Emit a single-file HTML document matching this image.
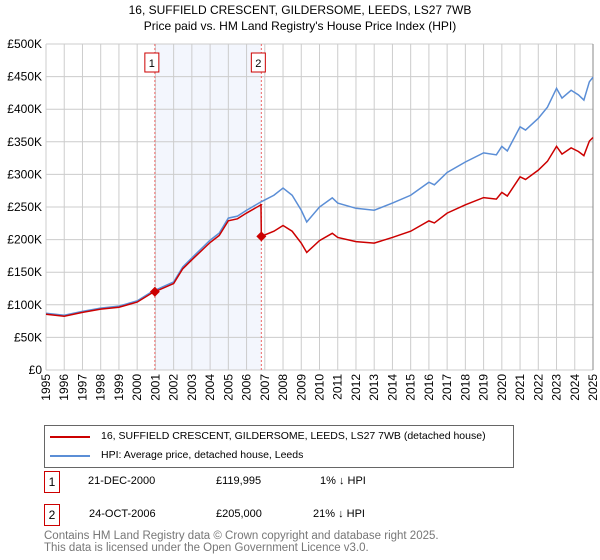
<!DOCTYPE html>
<html><head><meta charset="utf-8"><style>
body{margin:0;background:#fff;font-family:"Liberation Sans","DejaVu Sans",sans-serif}
#wrap{position:relative;width:600px;height:560px;overflow:hidden}
.t{position:absolute;font-size:12px;color:#000;white-space:nowrap}
.box{position:absolute;border:1px solid #c00;width:14px;height:20px;font-size:12px;text-align:center;line-height:20px}
</style></head><body>
<div id="wrap">
<svg id="svg" width="600" height="420" style="position:absolute;left:0;top:0"></svg>
<div style="position:absolute;left:44px;top:425px;width:468px;height:41px;border:1px solid #666"></div>
<div style="position:absolute;left:50px;top:436px;width:40px;height:2px;background:#c00"></div>
<div class="t" style="left:101px;top:430px;font-size:10.5px">16, SUFFIELD CRESCENT, GILDERSOME, LEEDS, LS27 7WB (detached house)</div>
<div style="position:absolute;left:50px;top:455px;width:40px;height:2px;background:#5b8ed6"></div>
<div class="t" style="left:101px;top:449px;font-size:10.5px">HPI: Average price, detached house, Leeds</div>
<div class="box" style="left:44px;top:471px">1</div>
<div class="t" style="left:88px;top:475px;font-size:11px">21-DEC-2000</div>
<div class="t" style="left:216px;top:475px;font-size:11px">£119,995</div>
<div class="t" style="left:320px;top:475px;font-size:11px">1% ↓ HPI</div>
<div class="box" style="left:44px;top:504px">2</div>
<div class="t" style="left:89px;top:508px;font-size:11px">24-OCT-2006</div>
<div class="t" style="left:216px;top:508px;font-size:11px">£205,000</div>
<div class="t" style="left:313px;top:508px;font-size:11px">21% ↓ HPI</div>
<div class="t" style="left:44px;top:530px;color:#777;font-size:11.5px;line-height:12px">Contains HM Land Registry data © Crown copyright and database right 2025.<br>This data is licensed under the Open Government Licence v3.0.</div>
</div>
<script>
const hpiYears=[1995,1996,1997,1998,1999,2000,2000.8,2002,2002.5,2003,2004,2004.5,2005,2005.5,2006,2006.8,2007.5,2008,2008.5,2009,2009.3,2010,2010.7,2011,2012,2013,2014,2015,2016,2016.3,2017,2018,2019,2019.7,2020,2020.3,2021,2021.3,2022,2022.5,2023,2023.3,2023.8,2024.2,2024.5,2024.8,2025];
const hpiValues=[87,84,90,95,98,106,120,135,158,172,199,210,233,236,245,258,268,279,268,245,227,250,264,256,248,245,256,268,288,284,303,319,333,330,343,336,373,368,386,403,432,417,429,422,414,442,449];
const saleYears=[2000.97,2006.81];
const saleValues=[119.995,205];
const saleLabels=["1","2"];
const yTicks=[0,50,100,150,200,250,300,350,400,450,500];
const yTickLabels=["£0","£50K","£100K","£150K","£200K","£250K","£300K","£350K","£400K","£450K","£500K"];
const xTicks=[1995,1996,1997,1998,1999,2000,2001,2002,2003,2004,2005,2006,2007,2008,2009,2010,2011,2012,2013,2014,2015,2016,2017,2018,2019,2020,2021,2022,2023,2024,2025];
const L=46,R=593,T=44,B=370;
const X=y=>L+(y-1995)/30*(R-L);
const Y=v=>B-v/500*(B-T);
const svg=document.getElementById('svg');const NS='http://www.w3.org/2000/svg';
function mk(tag,a,name){const e=document.createElementNS(NS,tag);for(const k in a)e.setAttribute(k,a[k]);


svg.appendChild(e);return e;}
function interp(yr){for(let i=0;i<hpiYears.length-1;i++){if(yr<=hpiYears[i+1]){const f=(yr-hpiYears[i])/(hpiYears[i+1]-hpiYears[i]);return hpiValues[i]+f*(hpiValues[i+1]-hpiValues[i]);}}return hpiValues[hpiValues.length-1];}
let t=mk('text',{x:300,y:14,'text-anchor':'middle','font-size':12,'font-family':'Liberation Sans, sans-serif'},'chart-title');t.textContent='16, SUFFIELD CRESCENT, GILDERSOME, LEEDS, LS27 7WB';
t=mk('text',{x:300,y:30,'text-anchor':'middle','font-size':12,'font-family':'Liberation Sans, sans-serif'},'chart-subtitle');t.textContent="Price paid vs. HM Land Registry's House Price Index (HPI)";
mk('rect',{x:X(saleYears[0]),y:T,width:X(saleYears[1])-X(saleYears[0]),height:B-T,fill:'#eef2fc',opacity:0.7},'ownership-shading');
yTicks.forEach((v,i)=>{mk('line',{x1:L,x2:R,y1:Y(v),y2:Y(v),stroke:'#ccc'},'y-gridline');
const tx=mk('text',{x:L-4,y:Y(v)+4,'text-anchor':'end','font-size':12,'font-family':'Liberation Sans, sans-serif'},'y-tick-label');tx.textContent=yTickLabels[i];});
xTicks.forEach(yr=>{mk('line',{x1:X(yr),x2:X(yr),y1:T,y2:B,stroke:'#ccc'},'x-gridline');
const tx=mk('text',{x:0,y:0,'text-anchor':'end','font-size':12,'font-family':'Liberation Sans, sans-serif',transform:`translate(${X(yr)+4},${B+4}) rotate(-90)`},'x-tick-label');tx.textContent=yr;});
mk('line',{x1:R,x2:R,y1:T,y2:B,stroke:'#888'},'plot-right-edge');
saleYears.forEach((yr,i)=>{mk('line',{x1:X(yr),x2:X(yr),y1:T,y2:B,stroke:'#e66','stroke-dasharray':'2,2'},'sale-marker-line');
mk('rect',{x:X(yr)-10,y:53,width:14,height:19,fill:'#fff',stroke:'#c00'},'sale-marker-box');
const tx=mk('text',{x:X(yr)-3,y:67,'text-anchor':'middle','font-size':11,'font-family':'Liberation Sans, sans-serif'},'sale-marker-label');tx.textContent=saleLabels[i];});
mk('polyline',{points:hpiYears.map((y,i)=>X(y)+','+Y(hpiValues[i])).join(' '),fill:'none',stroke:'#5b8ed6','stroke-width':1.5},'hpi-line');
const pts=[];
const r1=saleValues[0]/interp(saleYears[0]),r2=saleValues[1]/interp(saleYears[1]);
hpiYears.forEach((y,i)=>{if(y<saleYears[1])pts.push([y,hpiValues[i]*r1]);});
pts.push([saleYears[1]-0.02,interp(saleYears[1])*r1]);
pts.push([saleYears[1],saleValues[1]]);
hpiYears.forEach((y,i)=>{if(y>saleYears[1])pts.push([y,hpiValues[i]*r2]);});
mk('polyline',{points:pts.map(p=>X(p[0])+','+Y(p[1])).join(' '),fill:'none',stroke:'#c00','stroke-width':1.5},'price-paid-line');
saleYears.forEach((yr,i)=>{const cx=X(yr),cy=Y(saleValues[i]);
mk('polygon',{points:`${cx},${cy-5} ${cx+5},${cy} ${cx},${cy+5} ${cx-5},${cy}`,fill:'#c00'},'sale-point');});
</script>
</body></html>
